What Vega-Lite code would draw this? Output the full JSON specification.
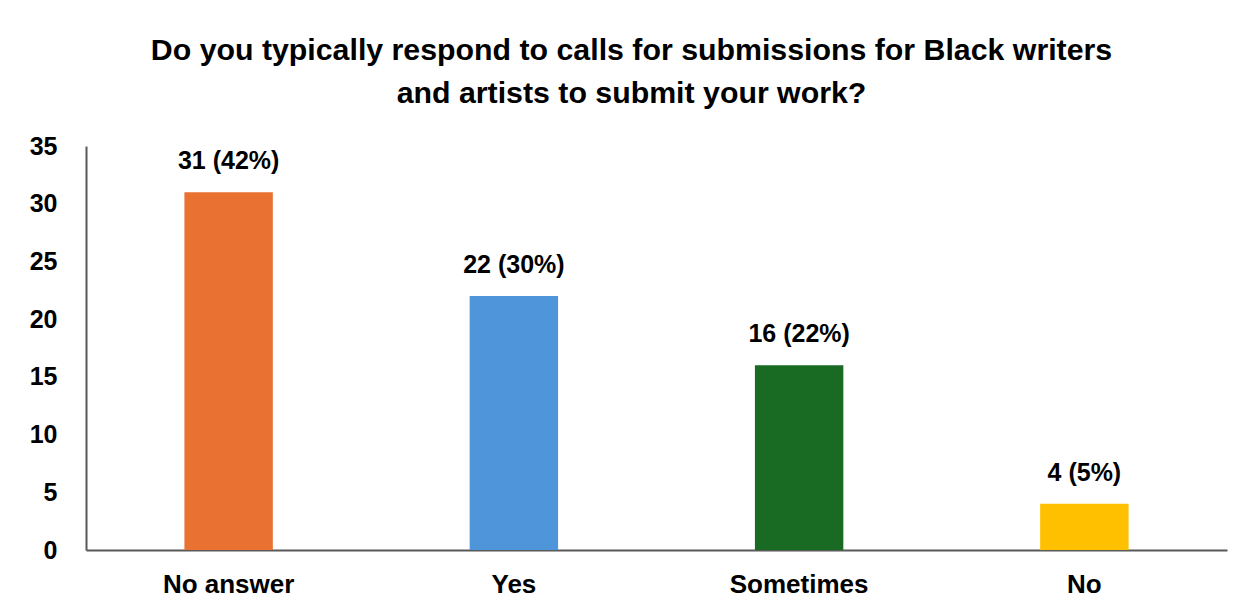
{
  "$schema": "https://vega.github.io/schema/vega-lite/v6.json",
  "width": 1141,
  "height": 404,
  "autosize": "none",
  "padding": {"left": 86, "top": 146, "right": 19, "bottom": 61},
  "background": "white",
  "title": {
    "text": ["Do you typically respond to calls for submissions for Black writers", "and artists to submit your work?"],
    "font": "Liberation Sans",
    "fontSize": 30.3,
    "fontWeight": "bold",
    "color": "#000000",
    "lineHeight": 43,
    "anchor": "middle",
    "dx": -25,
    "offset": 25
  },
  "config": {
    "view": {"stroke": null},
    "font": "Liberation Sans"
  },
  "data": {
    "values": [
      {"answer": "No answer", "count": 31, "label": "31 (42%)"},
      {"answer": "Yes", "count": 22, "label": "22 (30%)"},
      {"answer": "Sometimes", "count": 16, "label": "16 (22%)"},
      {"answer": "No", "count": 4, "label": "4 (5%)"}
    ]
  },
  "encoding": {
    "x": {
      "field": "answer",
      "type": "nominal",
      "sort": null,
      "scale": {"paddingInner": 0.69, "paddingOuter": 0.345},
      "axis": {
        "title": null,
        "labelAngle": 0,
        "labelFont": "Liberation Sans",
        "labelFontSize": 26,
        "labelFontWeight": "bold",
        "labelColor": "#000000",
        "labelPadding": 21,
        "ticks": false,
        "domainColor": "#595959",
        "domainWidth": 2
      }
    },
    "y": {
      "field": "count",
      "type": "quantitative",
      "scale": {"domain": [0, 35], "nice": false},
      "axis": {
        "title": null,
        "values": [0, 5, 10, 15, 20, 25, 30, 35],
        "grid": false,
        "ticks": false,
        "labelFont": "Liberation Sans",
        "labelFontSize": 25,
        "labelFontWeight": "bold",
        "labelColor": "#000000",
        "labelPadding": 29,
        "domainColor": "#595959",
        "domainWidth": 2
      }
    }
  },
  "layer": [
    {
      "mark": {"type": "bar"},
      "encoding": {
        "color": {
          "field": "answer",
          "type": "nominal",
          "sort": null,
          "scale": {"domain": ["No answer", "Yes", "Sometimes", "No"], "range": ["#E97132", "#4E95D9", "#196B24", "#FFC000"]},
          "legend": null
        }
      }
    },
    {
      "mark": {"type": "text", "baseline": "middle", "dy": -31, "font": "Liberation Sans", "fontSize": 25, "fontWeight": "bold", "color": "#000000"},
      "encoding": {"text": {"field": "label"}}
    }
  ]
}
